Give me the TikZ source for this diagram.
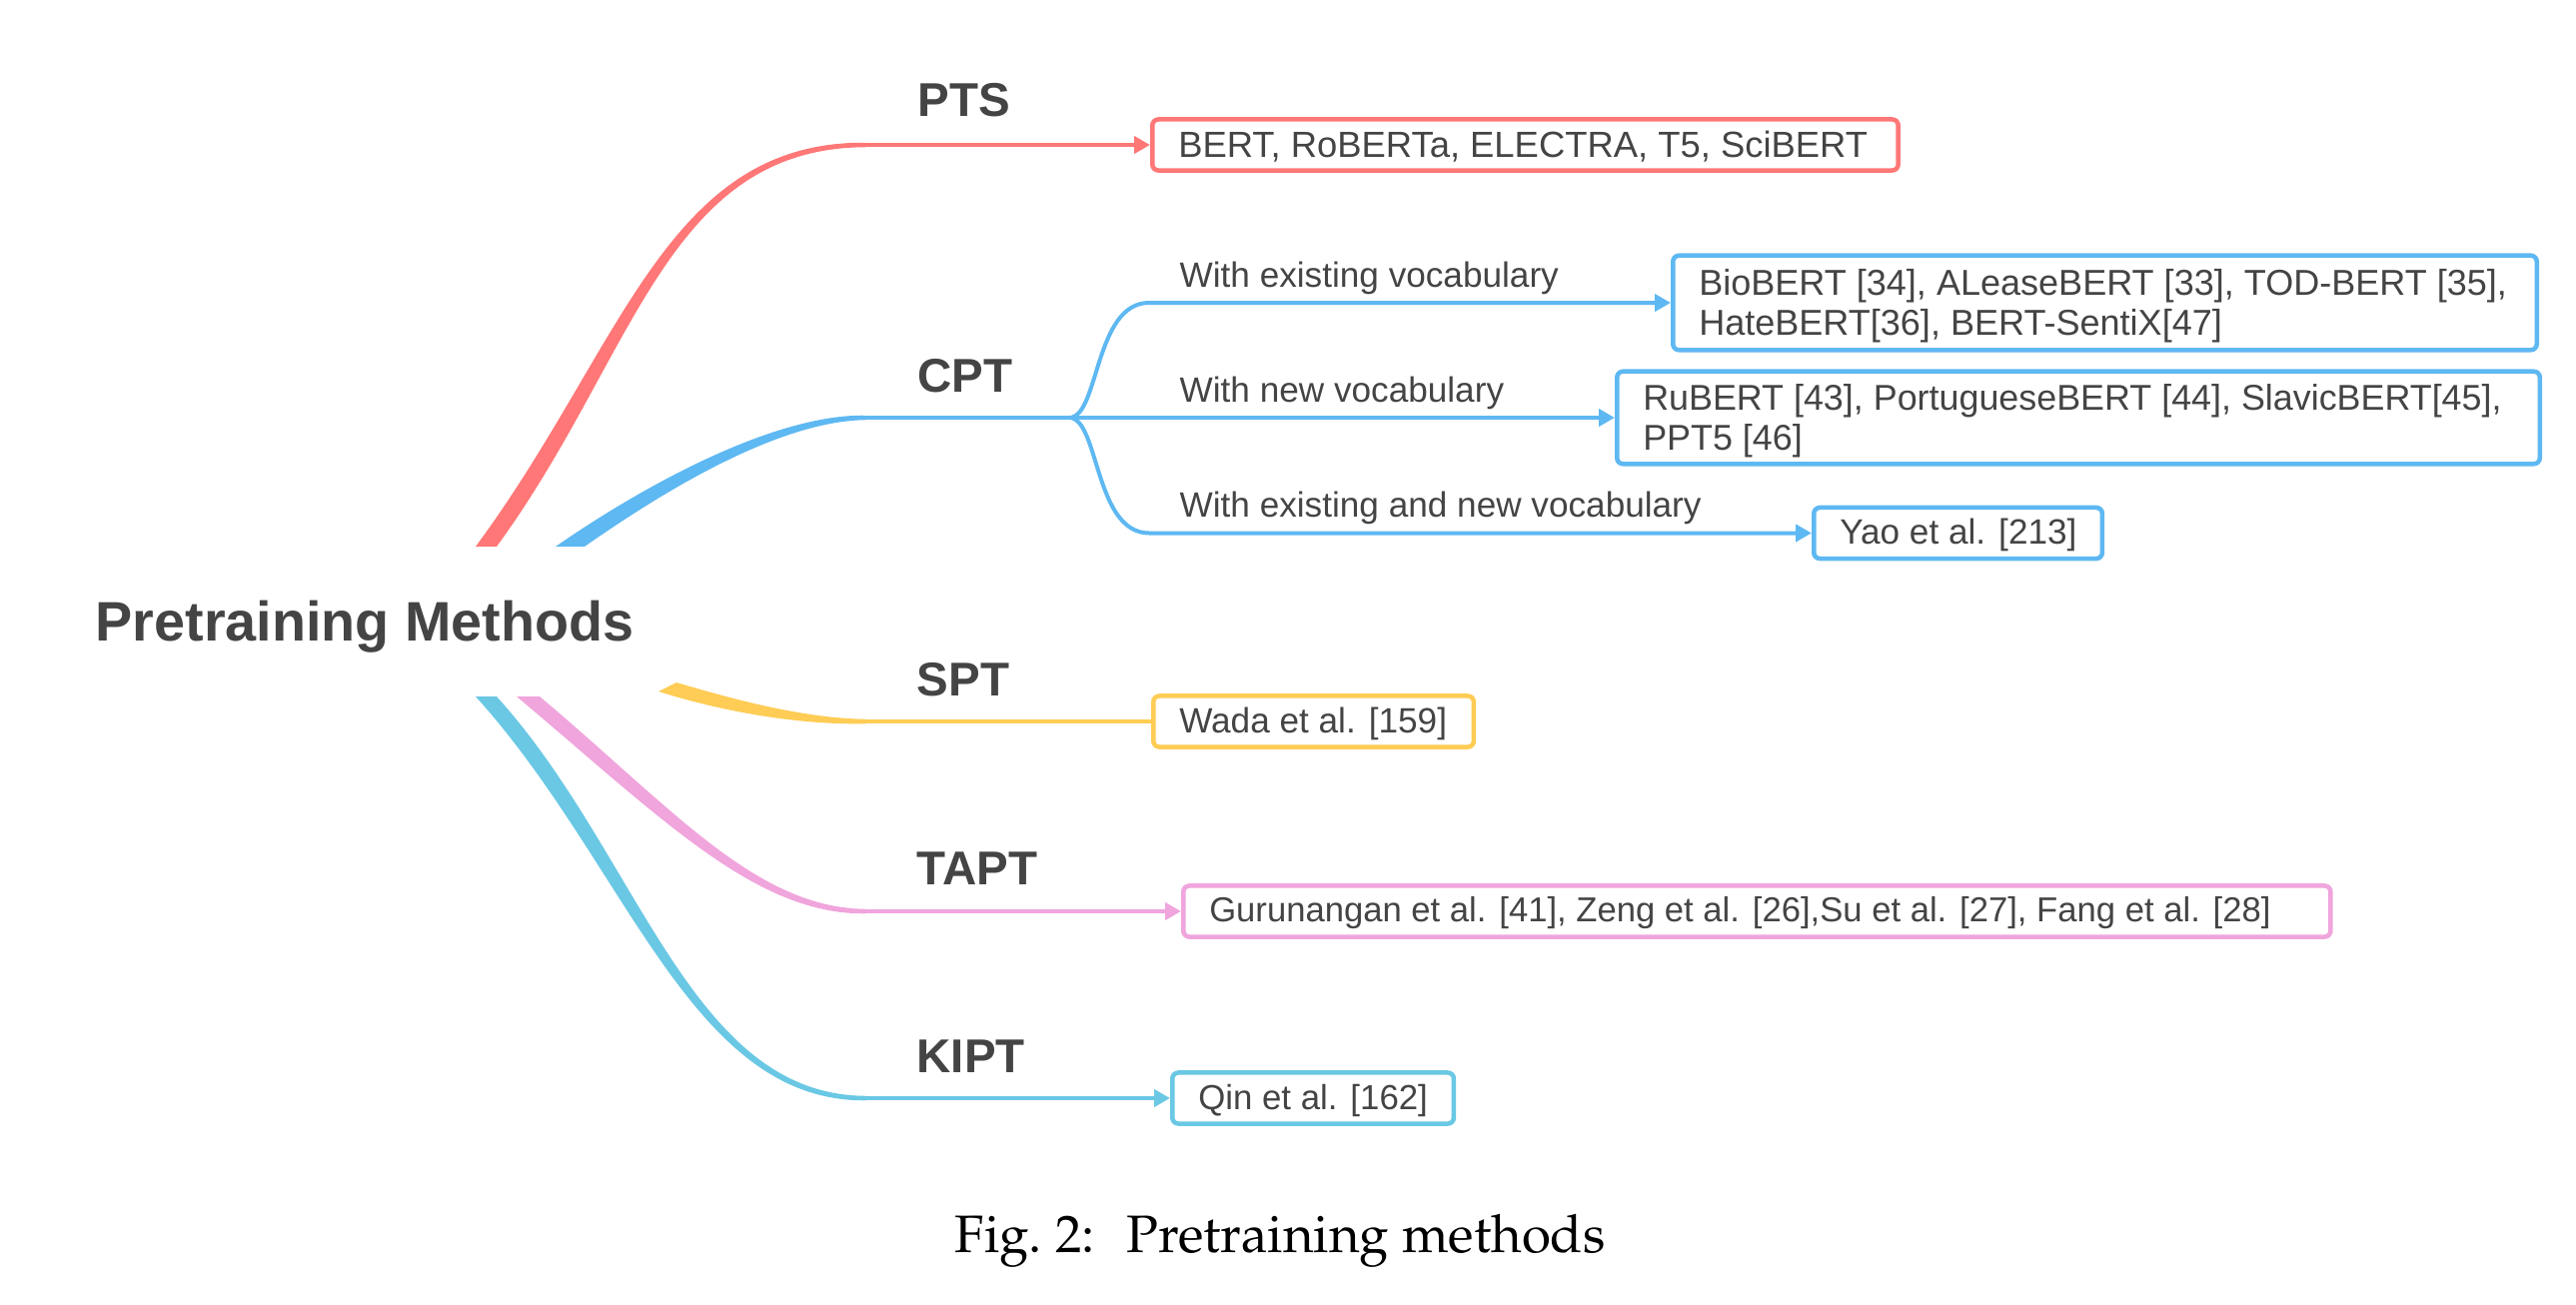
\documentclass[tikz,border=0pt]{standalone}
\usepackage[T1]{fontenc}
\usepackage{fontspec}
\usetikzlibrary{arrows.meta}
\newfontfamily\arialf{Liberation Sans}
\definecolor{cred}{HTML}{FF7777}
\definecolor{cblue}{HTML}{5EB8F2}
\definecolor{cyel}{HTML}{FFCC55}
\definecolor{cpink}{HTML}{F0A5DC}
\definecolor{ccyan}{HTML}{6AC8E4}
\definecolor{ctext}{HTML}{444444}
\newcommand\bxt[2]{\makebox[#1][l]{\raisebox{-0.02cm}[\height][\depth]{#2}}}
\newcommand\bxtt[2]{\makebox[#1][l]{\raisebox{-0.045cm}[\height][\depth]{\begin{tabular}{@{}l@{}}#2\end{tabular}}}}
\newcommand\bfs[1]{\arialf\fontsize{#1}{11.4}\selectfont}
\begin{document}
\begin{tikzpicture}[x=0.01cm,y=-0.01cm,
  lbl/.style={font=\arialf\bfseries\fontsize{13.5}{16}\selectfont, text=ctext, anchor=base west, inner sep=0pt},
  sublbl/.style={font=\arialf\fontsize{10}{12}\selectfont, text=ctext, anchor=base west, inner sep=0pt},
  refbox/.style={draw=#1, fill=white, line width=0.045cm, rounded corners=0.06cm, anchor=west,
     inner xsep=0.26cm, inner ysep=0pt, minimum height=0.51cm,
     font=\bfs{10}, text=ctext},
  conn/.style={draw=#1, line width=0.045cm},
  arr/.style={-{Triangle[length=0.16cm,width=0.17cm]}},
]
\useasboundingbox (0,0) rectangle (2578,1306);

% tapered main branches
\fill[cred] (476,547) .. controls (623.8,347) and (666,141.5) .. (866,142.75)
  -- (866,147.25) .. controls (666,148.5) and (636.2,357) .. (497,547) -- cycle;
\fill[cblue] (556,547) .. controls (647.9,483.4) and (776,414.5) .. (866,415.75)
  -- (866,420.25) .. controls (776,421.5) and (657.1,496.6) .. (585,547) -- cycle;
\fill[cyel] (677,683) .. controls (729.2,698.3) and (800,718.5) .. (866,719.75)
  -- (866,724.25) .. controls (800,725.5) and (724.8,712.7) .. (659,692) -- cycle;
\fill[cpink] (540,697) .. controls (671.2,807) and (756,908.5) .. (866,909.75)
  -- (866,914.25) .. controls (756,915.5) and (661.6,818.4) .. (517,697) -- cycle;
\fill[ccyan] (497,697) .. controls (639.8,854.4) and (690,1095.5) .. (866,1096.75)
  -- (866,1101.25) .. controls (690,1102.5) and (628,865.2) .. (476,697) -- cycle;

% title and labels
\node[anchor=base west, inner sep=0pt, font=\arialf\bfseries\fontsize{15.85}{18}\selectfont, text=ctext] (title) at (95,641) {Pretraining Methods};
\node[lbl] (pts) at (918,116) {PTS};
\node[lbl] (cpt) at (918,392) {CPT};
\node[lbl] (spt) at (917,696) {SPT};
\node[lbl] (tapt) at (917,885) {TAPT};
\node[lbl] (kipt) at (917,1073) {KIPT};

\node[sublbl] (s1) at (1180,287) {With existing vocabulary};
\node[sublbl] (s2) at (1180,402) {With new vocabulary};
\node[sublbl] (s3) at (1180,517) {With existing and new vocabulary};

% curve ends
\coordinate (ptsE) at (866,145);
\coordinate (cptE) at (866,418);
\coordinate (sptE) at (866,722);
\coordinate (taptE) at (866,912);
\coordinate (kiptE) at (866,1099);
\coordinate (br) at (1070,418);

% boxes
\node[refbox=cred, font=\bfs{10.35}] (ptsbox) at (1151,145) {\bxt{6.94cm}{BERT, RoBERTa, ELECTRA, T5, SciBERT}};
\node[refbox=cblue, minimum height=0.945cm, font=\bfs{10.25}] (b1) at (1672,303)
  {\bxtt{8.12cm}{BioBERT [34], ALeaseBERT [33], TOD-BERT [35],\\HateBERT[36], BERT-SentiX[47]}};
\node[refbox=cblue, minimum height=0.925cm, font=\bfs{10.2}] (b2) at (1616,418)
  {\bxtt{8.71cm}{RuBERT [43], PortugueseBERT [44], SlavicBERT[45],\\PPT5 [46]}};
\node[refbox=cblue] (b3) at (1813,533.5) {\bxt{2.365cm}{Yao et al. [213]}};
\node[refbox=cyel] (sptbox) at (1152,722) {\bxt{2.685cm}{Wada et al. [159]}};
\node[refbox=cpink, font=\bfs{9.85}] (taptbox) at (1182,912) {\bxt{10.955cm}{Gurunangan et al. [41], Zeng et al. [26],Su et al. [27], Fang et al. [28]}};
\node[refbox=ccyan, font=\bfs{9.9}] (kiptbox) at (1171,1099) {\bxt{2.295cm}{Qin et al. [162]}};

% connectors
\draw[conn=cred, arr] (ptsE) -- (ptsbox.west);
\draw[conn=cblue, arr] (cptE) -- (b2.west);
\draw[conn=cblue, line width=0.04cm, arr] (br) .. controls (1100,418) and (1095,303) .. (1150,303) -- (b1.west);
\draw[conn=cblue, line width=0.04cm, arr] (br) .. controls (1100,418) and (1095,533.5) .. (1150,533.5) -- (b3.west);
\draw[conn=cyel] (sptE) -- (sptbox.west);
\draw[conn=cpink, arr] (taptE) -- (taptbox.west);
\draw[conn=ccyan, arr] (kiptE) -- (kiptbox.west);

% caption
\node[anchor=base west, inner sep=0pt, font=\fontencoding{T1}\fontfamily{ppl}\fontsize{15}{18}\selectfont] (cap) at (955,1253) {Fig.~2:\hspace{0.6em}Pretraining methods};
\end{tikzpicture}
\end{document}
